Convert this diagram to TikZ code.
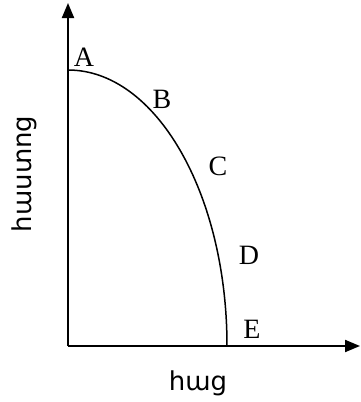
\documentclass[tikz,border=0pt]{standalone}
\usepackage{fontspec}
\setmainfont{Liberation Serif}
\newfontfamily\armfont[Script=Armenian]{DejaVu Sans}
\usetikzlibrary{arrows.meta}
\begin{document}
\begin{tikzpicture}[x=1pt,y=-1pt,
  axis/.style={line width=2pt,-{Triangle[length=15pt,width=12pt]}},
  ppf/.style={line width=1.5pt},
  pt/.style={font=\fontsize{28}{28}\selectfont,inner sep=0pt},
  axlabel/.style={font=\armfont\fontsize{26}{26}\selectfont,inner sep=0pt}]
\useasboundingbox (0,0) rectangle (361,402);
\coordinate (O) at (68,346);
\coordinate (ytip) at (68,3);
\coordinate (xtip) at (360,346);
\coordinate (start) at (68,70);
\coordinate (end) at (227,346);
\draw[axis] (O) -- (ytip);
\draw[axis] (O) -- (xtip);
\draw[ppf] (start) arc[start angle=90,end angle=0,x radius=159,y radius=-276];
\node[pt] (A) at (84,57) {A};
\node[pt] (B) at (162,99) {B};
\node[pt] (C) at (218,166) {C};
\node[pt] (D) at (249,255) {D};
\node[pt] (E) at (252,329) {E};
\node[axlabel] (xl) at (198,383) {հաց};
\node[axlabel,rotate=90] (yl) at (24,174) {հաստոց};
\end{tikzpicture}
\end{document}
